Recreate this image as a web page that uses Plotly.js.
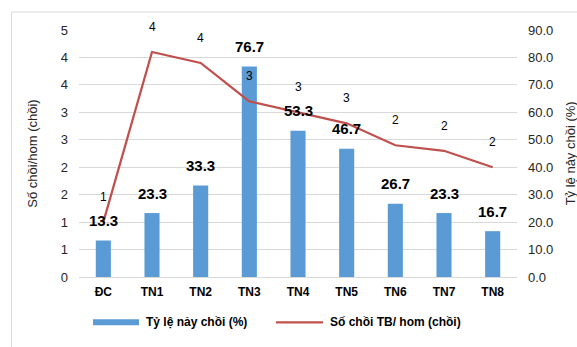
<!DOCTYPE html>
<html>
<head>
<meta charset="utf-8">
<script src="https://cdn.plot.ly/plotly-3.0.1.min.js"></script>
<style>
  html, body { margin: 0; padding: 0; background: #fff; }
  #chart { width: 577px; height: 347px; }
</style>
</head>
<body>
<div id="chart"></div>
<script>
// Treatments (control + 8 trials)
const categories = ['ĐC', 'TN1', 'TN2', 'TN3', 'TN4', 'TN5', 'TN6', 'TN7', 'TN8'];
// Sprouting rate (%) – bars, right axis
const sproutRate = [13.3, 23.3, 33.3, 76.7, 53.3, 46.7, 26.7, 23.3, 16.7];
// Mean shoots per cutting – line, left axis
const shootsPerCutting = [1.0, 4.1, 3.9, 3.2, 3.0, 2.8, 2.4, 2.3, 2.0];
// Left axis ticks (half steps shown as rounded whole numbers)
const leftTickVals = [0, 0.5, 1, 1.5, 2, 2.5, 3, 3.5, 4, 4.5];
const leftTickText = ['0', '1', '1', '2', '2', '3', '3', '4', '4', '5'];
const rateName = 'Tỷ lệ nảy chồi (%)';
const shootName = 'Số chồi TB/ hom (chồi)';

const BLUE = '#5B9BD5';
const RED = '#C0504D';
const GRID = '#d9d9d9';
const FONT = 'Liberation Sans, Arial, sans-serif';

const traces = [
  {
    type: 'bar', x: categories, y: sproutRate, yaxis: 'y', name: rateName,
    marker: { color: BLUE }, width: 0.31, hoverinfo: 'x+y'
  },
  {
    type: 'scatter', mode: 'lines', x: categories, y: shootsPerCutting, yaxis: 'y2',
    name: shootName, line: { color: RED, width: 2.25 }, hoverinfo: 'x+y'
  }
];

const annotations = [];
categories.forEach((c, i) => {
  annotations.push({
    x: c, y: sproutRate[i], xref: 'x', yref: 'y', yshift: 20,
    text: '<b>' + sproutRate[i].toFixed(1) + '</b>', showarrow: false,
    font: { family: FONT, size: 15, color: '#000' }
  });
  annotations.push({
    x: c, y: shootsPerCutting[i], xref: 'x', yref: 'y2', yshift: 25,
    text: String(Math.round(shootsPerCutting[i])), showarrow: false,
    font: { family: FONT, size: 12, color: '#000' }
  });
});

// Right-hand axis title, close to the figure edge
annotations.push({
  x: 1.123, y: 0.5, xref: 'paper', yref: 'paper', xanchor: 'center', yanchor: 'middle',
  textangle: -90, text: rateName, showarrow: false,
  font: { family: FONT, size: 13, color: '#262626' }
});

// Legend entries
annotations.push({
  x: 0.1484, y: -0.184, xref: 'paper', yref: 'paper', xanchor: 'left', yanchor: 'middle',
  text: '<b>' + rateName + '</b>', showarrow: false, font: { family: FONT, size: 12, color: '#000' }
});
annotations.push({
  x: 0.5685, y: -0.184, xref: 'paper', yref: 'paper', xanchor: 'left', yanchor: 'middle',
  text: '<b>' + shootName + '</b>', showarrow: false, font: { family: FONT, size: 12, color: '#000' }
});

const shapes = [
  // chart frame
  { type: 'rect', xref: 'paper', yref: 'paper', x0: -0.1541, x1: 1.16, y0: -0.31, y1: 1.0729,
    line: { color: GRID, width: 1 }, fillcolor: 'rgba(0,0,0,0)', layer: 'below' },
  // legend swatches
  { type: 'rect', xref: 'paper', yref: 'paper', x0: 0.032, x1: 0.137, y0: -0.1955, y1: -0.1713,
    line: { width: 0 }, fillcolor: BLUE },
  { type: 'line', xref: 'paper', yref: 'paper', x0: 0.4498, x1: 0.557, y0: -0.184, y1: -0.184,
    line: { color: RED, width: 2.25 } }
];

const layout = {
  width: 577, height: 347,
  margin: { l: 79, r: 60, t: 30, b: 70 },
  paper_bgcolor: '#fff', plot_bgcolor: '#fff',
  font: { family: FONT, size: 13, color: '#262626' },
  showlegend: false,
  xaxis: {
    type: 'category', showgrid: false, zeroline: false, showline: false,
    ticks: '', ticklabelstandoff: 6,
    tickfont: { family: FONT, size: 12, color: '#000', weight: 'bold' }
  },
  yaxis: {
    side: 'right', range: [0, 90], tickvals: [0,10,20,30,40,50,60,70,80,90], tickformat: '.1f',
    showgrid: true, gridcolor: GRID, gridwidth: 1, zeroline: true, zerolinecolor: GRID,
    showline: false, ticks: '', ticklabelstandoff: 10,
    tickfont: { family: FONT, size: 13, color: '#262626' }
  },
  yaxis2: {
    overlaying: 'y', side: 'left', range: [0, 4.5],
    tickvals: leftTickVals, ticktext: leftTickText,
    showgrid: false, zeroline: false, showline: false, ticks: '', ticklabelstandoff: 10,
    tickfont: { family: FONT, size: 13, color: '#262626' },
    title: { text: 'Số chồi/hom (chồi)', standoff: 20, font: { family: FONT, size: 13, color: '#262626' } }
  },
  annotations: annotations,
  shapes: shapes
};

Plotly.newPlot('chart', traces, layout, { displayModeBar: false, staticPlot: true });
</script>
</body>
</html>
